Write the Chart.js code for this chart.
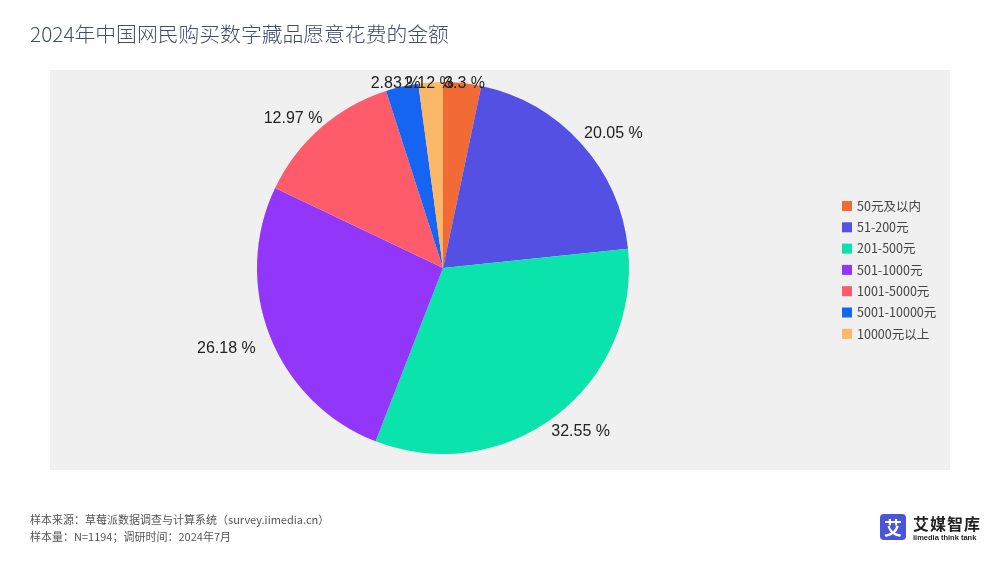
<!DOCTYPE html>
<html>
<head>
<meta charset="utf-8">
<script src="https://cdn.jsdelivr.net/npm/chart.js@4"></script>
<style>
  body { margin: 0; background: #fff; font-family: "Noto Sans CJK SC", "Liberation Sans", sans-serif; }
  #wrap { position: relative; width: 1000px; height: 563px; overflow: hidden; }
  #pieChart { position: absolute; left: 0; top: 0; }
  .title { position: absolute; left: 30px; top: 18px; font-size: 20.8px; font-weight: 300; color: #434c6c; white-space: nowrap; }
  .note { position: absolute; left: 30px; font-size: 11px; color: #555; white-space: nowrap; }
  .logo { position: absolute; left: 880px; top: 514px; }
  .logo .box { position: absolute; left: 0; top: 0; width: 26px; height: 26px; border-radius: 4px; background: #4a55d8; color: #fff; font-size: 18px; line-height: 26px; text-align: center; font-weight: bold; }
  .logo .name { position: absolute; left: 33px; top: -3px; font-size: 16px; font-weight: bold; color: #222; white-space: nowrap; letter-spacing: 1px; }
  .logo .sub { position: absolute; left: 33px; top: 19px; font-size: 7.5px; font-weight: bold; color: #222; white-space: nowrap; font-family: "Liberation Sans", sans-serif; }
</style>
</head>
<body>
<div id="wrap">
  <canvas id="pieChart" width="1000" height="563"></canvas>
  <div class="title">2024年中国网民购买数字藏品愿意花费的金额</div>
  <div class="note" style="top:511px">样本来源：草莓派数据调查与计算系统（survey.iimedia.cn）</div>
  <div class="note" style="top:528px">样本量：N=1194；调研时间：2024年7月</div>
  <div class="logo">
    <div class="box">艾</div>
    <div class="name">艾媒智库</div>
    <div class="sub">iimedia think tank</div>
  </div>
</div>
<script>
const categories = ['50元及以内', '51-200元', '201-500元', '501-1000元', '1001-5000元', '5001-10000元', '10000元以上'];
const shares = [3.3, 20.05, 32.55, 26.18, 12.97, 2.83, 2.12];
const sliceColors = ['#F26B35', '#5450E4', '#0BE3AD', '#9237F9', '#FE5B6B', '#1565F2', '#FBB868'];

// grey plot panel behind the pie
const panelBg = {
    id: 'panelBg',
    beforeDraw(chart) {
        const c = chart.ctx;
        c.save();
        c.fillStyle = '#f0f0f0';
        c.fillRect(50, 70, 900, 400);
        c.restore();
    }
};

// percentage labels just outside each slice (side labels sit further out than top ones)
const outsideLabels = {
    id: 'outsideLabels',
    afterDatasetsDraw(chart) {
        const c = chart.ctx;
        const arcs = chart.getDatasetMeta(0).data;
        c.save();
        c.font = '16px "Liberation Sans", Arial, sans-serif';
        c.fillStyle = '#222';
        c.textAlign = 'center';
        c.textBaseline = 'middle';
        arcs.forEach((arc, i) => {
            const p = arc.getProps(['x', 'y', 'startAngle', 'endAngle', 'outerRadius'], true);
            const mid = (p.startAngle + p.endAngle) / 2;
            const s = Math.cos(mid), cs = -Math.sin(mid); // s: horizontal, cs: upward
            const txt = shares[i] + ' %';
            const w = c.measureText(txt).width;
            const r = p.outerRadius;
            const offX = Math.sign(s) * (w / 2) * Math.abs(s) + 19 * s * Math.abs(s);
            const offY = -cs * 26 * Math.abs(s) + 3;
            c.fillText(txt, p.x + r * s + offX, p.y - r * cs + offY);
        });
        c.restore();
    }
};

// legend on the right
const sideLegend = {
    id: 'sideLegend',
    afterDraw(chart) {
        const c = chart.ctx;
        c.save();
        c.font = '12.5px "Noto Sans CJK SC", sans-serif';
        c.textBaseline = 'middle';
        categories.forEach((name, i) => {
            const y = 206 + i * 21.3;
            c.fillStyle = sliceColors[i];
            c.fillRect(842, y - 5, 10, 10);
            c.fillStyle = '#444';
            c.fillText(name, 857, y);
        });
        c.restore();
    }
};

new Chart(document.getElementById('pieChart').getContext('2d'), {
    type: 'pie',
    data: {
        labels: categories,
        datasets: [{
            data: shares,
            backgroundColor: sliceColors,
            borderWidth: 0
        }]
    },
    options: {
        responsive: false,
        animation: false,
        layout: { padding: { left: 257, top: 82, right: 371, bottom: 109 } },
        plugins: {
            legend: { display: false },
            tooltip: { enabled: false }
        }
    },
    plugins: [panelBg, outsideLabels, sideLegend]
});
</script>
</body>
</html>
